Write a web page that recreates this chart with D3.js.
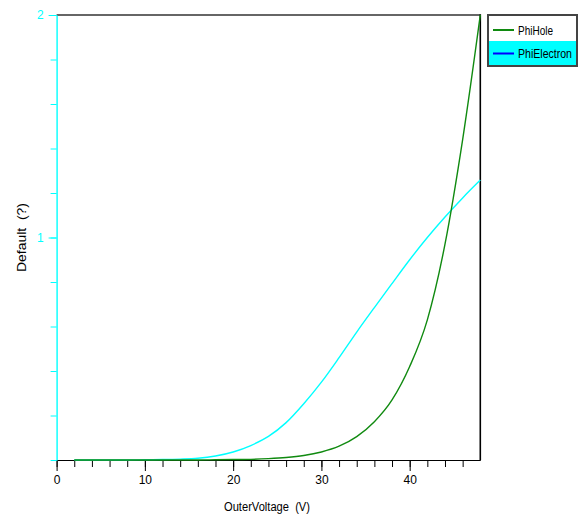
<!DOCTYPE html>
<html><head><meta charset="utf-8">
<script src="https://cdn.jsdelivr.net/npm/d3@7"></script>
<style>
html,body{margin:0;padding:0;background:#fff;}
text{font-family:"Liberation Sans",Arial,sans-serif;}
</style></head>
<body>
<svg id="chart" width="579" height="519"></svg>
<script>
const voltage = [2,4,6,8,10,12,14,16,18,20,22,24,26,28,30,32,34,36,38,40,42,44,46,48];
const phiElectron = [0,0,0,0,0.001,0.002,0.004,0.008,0.018,0.036,0.065,0.106,0.168,0.253,0.35,0.46,0.575,0.685,0.793,0.9,1.0,1.092,1.178,1.258];
const phiHole = [0,0,0,0,0,0,0,0,0.001,0.002,0.003,0.006,0.011,0.02,0.036,0.062,0.105,0.172,0.27,0.42,0.63,0.97,1.44,2.0];
const seriesNames = ["PhiHole","PhiElectron"];
const xMajorTicks = [0,10,20,30,40];
const xMinorTicks = [0,2,4,6,8,10,12,14,16,18,20,22,24,26,28,30,32,34,36,38,40,42,44,46];
const yMajorTicks = [1,2];
const yMinorTicks = [0,0.2,0.4,0.6,0.8,1,1.2,1.4,1.6,1.8,2];

const svg = d3.select("#chart");
const x = d3.scaleLinear().domain([0,48]).range([56.6,480.3]);
const y = d3.scaleLinear().domain([0,2]).range([460,15]);

// frame top & right
svg.append("line").attr("x1",x(0)).attr("x2",x(48)).attr("y1",y(2)).attr("y2",y(2))
  .attr("stroke","#333").attr("stroke-width",1.4);
svg.append("line").attr("x1",x(48)).attr("x2",x(48)).attr("y1",y(2)-0.7).attr("y2",y(0))
  .attr("stroke","#000").attr("stroke-width",1.6);

// x axis
const xAxisMinor = d3.axisBottom(x).tickValues(xMinorTicks).tickSize(7).tickFormat("");
const gxm = svg.append("g").attr("transform",`translate(0,${y(0)})`).call(xAxisMinor);
gxm.select(".domain").remove();
gxm.selectAll("line").attr("stroke","#000");
const xAxisMajor = d3.axisBottom(x).tickValues(xMajorTicks).tickSize(11).tickSizeOuter(0).tickPadding(4).tickFormat(d3.format("d"));
const gx = svg.append("g").attr("transform",`translate(0,${y(0)})`).call(xAxisMajor);
gx.select(".domain").attr("stroke","#000").attr("stroke-width",1.2);
gx.selectAll("line").attr("stroke","#000");
gx.selectAll("text").attr("fill","#000").style("font-size","12px")
  .style("font-family",'"Liberation Sans",Arial,sans-serif');

// y axis (cyan)
const yAxisMinor = d3.axisLeft(y).tickValues(yMinorTicks).tickSize(6).tickFormat("");
const gym = svg.append("g").attr("transform",`translate(${x(0)},0)`).call(yAxisMinor);
gym.select(".domain").remove();
gym.selectAll("line").attr("stroke","#00ffff");
const yAxisMajor = d3.axisLeft(y).tickValues(yMajorTicks).tickSize(8).tickSizeOuter(0).tickPadding(5).tickFormat(d3.format("d"));
const gy = svg.append("g").attr("transform",`translate(${x(0)},0)`).call(yAxisMajor);
gy.select(".domain").attr("stroke","#00ffff").attr("stroke-width",1.4);
gy.selectAll("line").attr("stroke","#00ffff");
gy.selectAll("text").attr("fill","#00ffff").style("font-size","12px")
  .style("font-family",'"Liberation Sans",Arial,sans-serif');

// curves
const line = d3.line().x((d,i)=>x(voltage[i])).y(d=>y(d)).curve(d3.curveMonotoneX);
svg.append("path").datum(phiElectron).attr("d",line).attr("fill","none")
  .attr("stroke","#00ffff").attr("stroke-width",1.4);
svg.append("path").datum(phiHole).attr("d",line).attr("fill","none")
  .attr("stroke","#108a10").attr("stroke-width",1.4);

// axis titles
svg.append("text").attr("x",267).attr("y",511).attr("text-anchor","middle")
  .style("font-size","12px").style("white-space","pre").attr("fill","#000")
  .attr("textLength",86).attr("lengthAdjust","spacingAndGlyphs")
  .text("OuterVoltage  (V)");
svg.append("text").attr("transform","translate(26,237.5) rotate(-90)").attr("text-anchor","middle")
  .style("font-size","12px").style("white-space","pre").attr("fill","#000")
  .attr("textLength",69).attr("lengthAdjust","spacingAndGlyphs")
  .text("Default  (?)");

// legend
const lg = svg.append("g");
lg.append("rect").attr("x",488).attr("y",15).attr("width",89).attr("height",51)
  .attr("fill","#fff").attr("stroke","#444").attr("stroke-width",2);
lg.append("rect").attr("x",489).attr("y",41).attr("width",87).attr("height",24).attr("fill","#00ffff");
const legendColors = ["#108a10","#0000ff"];
const legendWidths = [35,54];
seriesNames.forEach((name,i)=>{
  const cy = 30 + i*23.5;
  lg.append("line").attr("x1",493).attr("x2",514).attr("y1",cy).attr("y2",cy)
    .attr("stroke",legendColors[i]).attr("stroke-width",2);
  lg.append("text").attr("x",518).attr("y",cy+4.5).style("font-size","12px").attr("fill","#000")
    .attr("textLength",legendWidths[i]).attr("lengthAdjust","spacingAndGlyphs").text(name);
});
</script>
</body></html>
